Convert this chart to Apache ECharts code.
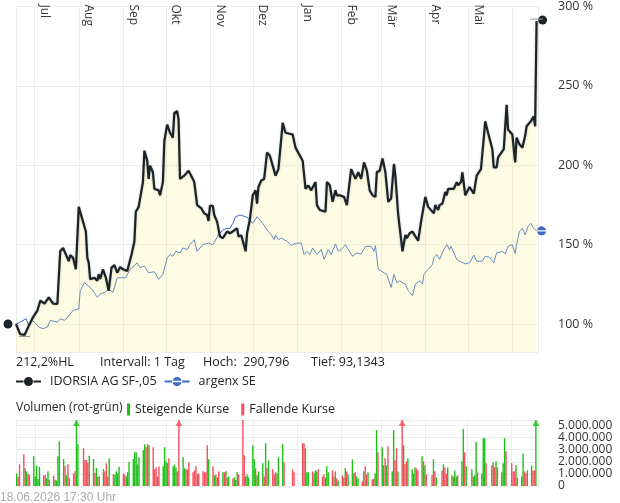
<!DOCTYPE html>
<html>
<head>
<meta charset="utf-8">
<script src="https://cdn.jsdelivr.net/npm/echarts@6/dist/echarts.min.js"></script>
<style>
  html, body { margin: 0; padding: 0; background: #fff; }
  #chart { width: 620px; height: 503px; }
</style>
</head>
<body>
<div id="chart"></div>
<script>
// Tage ab 18.06.2025, Werte in % (Start = 100)
const monthNames = ["Jan", "Feb", "Mär", "Apr", "Mai", "Jun", "Jul", "Aug", "Sep", "Okt", "Nov", "Dez"];
const hoch = 290.796;
const tief = 93.1343;

const idorsia = [
  [0,100],[3,93.6],[6,93.1343],[9,99],[12,104.4],[15,108.5],[17,114.7],[20,112.9],[23,116.8],[26,112.9],[29,112.7],
  [31,145.8],[33,147.9],[36,141.7],[37,139.6],[38,143.4],[40,141.7],[42,134.5],[44,173.8],[49,158.3],[50,141.7],
  [51,138.6],[52,128.2],[55,129.2],[57,127.2],[58,131.3],[59,128.4],[61,134.5],[63,129.2],[65,121],[67,135.5],
  [69,137.1],[71,132.3],[73,135.9],[75,134.5],[78,133.4],[81,143.8],[83,152],[84,170.7],[86,173.8],[89,189.4],
  [90,209.1],[92,202.9],[93,191.4],[94,199.8],[96,195.6],[97,185.2],[100,184.2],[101,181.1],[103,189.4],[104,215.3],
  [106,225.6],[108,220.5],[110,217.4],[111,232.9],[113,234],[114,228.8],[115,191.4],[118,193.5],[121,196.6],[124,191.4],
  [125,189.4],[127,174.9],[130,172.8],[132,169.7],[134,168.7],[135,164.9],[136,174.5],[138,174.5],[139,168.7],[141,164.5],
  [143,155.2],[145,154.1],[148,158.3],[150,157.2],[152,158.3],[155,160.3],[156,155.2],[158,155.8],[161,145.8],[162,157],
  [164,166],[166,181.1],[168,184.2],[169,175.9],[170,186.3],[172,190.4],[174,191.4],[176,208],[178,206],[180,199.8],
  [182,193.5],[184,197.6],[187,226.7],[189,220.5],[194,219.4],[196,211.1],[201,202.9],[203,185.2],[205,187.2],[207,184.2],
  [210,189.4],[211,174.9],[213,171.8],[217,170.7],[218,189.4],[220,187.4],[222,177],[224,184.2],[225,181.1],[227,181.1],
  [230,180.1],[232,174.9],[235,197.6],[238,191.4],[240,195.6],[242,191.4],[244,201.8],[246,196.7],[248,184.2],[250,181.1],
  [252,180.1],[253,195.6],[255,196.6],[257,204.3],[259,195.6],[261,177],[263,179],[265,200.8],[266,193.5],[268,168.7],
  [271,145.8],[273,156.2],[274,154.1],[276,157.2],[278,158.3],[280,155.2],[282,152.5],[284,164.5],[287,180.1],[289,173.8],
  [293,169.7],[294,174.9],[296,171.8],[297,174.9],[299,175.9],[301,183.2],[302,181.1],[303,185.2],[307,185.2],[309,189.4],
  [310,187.4],[312,189.4],[313,195.6],[315,181.1],[318,186.3],[321,182.1],[323,193.5],[326,197.6],[329,227.7],[331,220.5],
  [334,210.1],[335,198.7],[337,198.7],[338,204.9],[342,210.1],[344,238.1],[345,222.5],[348,219.4],[350,201.8],[351,217.4],
  [353,213.2],[355,211.1],[357,218.4],[358,224.6],[361,227.7],[363,230.8],[364,224.6],[365,290.796]
];

const argenx = [
  [0,100],[3,101.2],[7,103.4],[9,99.2],[11,102.3],[13,101.2],[16,98.1],[19,97.1],[22,98.1],[24,102.3],[29,101.2],
  [31,103.4],[34,102.3],[37,105.4],[40,108.5],[44,109.6],[45,121],[48,126.1],[52,123],[54,121],[57,116.8],[59,118.9],
  [62,119.9],[65,122],[66,123],[68,119.9],[71,129.2],[74,129.2],[77,129.2],[80,134.5],[85,138.6],[87,135.5],[90,136.5],
  [93,132.3],[97,133],[100,128.2],[103,131.3],[106,141.7],[108,143.8],[110,142.7],[112,145.8],[115,144.8],[117,147.9],
  [120,146.9],[122,150],[125,153.1],[127,145.8],[131,150],[135,151],[138,150],[142,156.2],[145,159.3],[148,160.3],
  [150,160.3],[152,163.4],[154,167.6],[157,168.7],[161,167.6],[163,166.6],[166,163.4],[169,167.6],[173,163.4],[176,159.3],
  [179,156.2],[181,153.1],[182,156.2],[184,153.1],[186,154.1],[190,152.1],[193,149.6],[197,151],[200,151],[202,143.8],
  [204,145.8],[206,143.8],[208,147.9],[211,143.8],[214,146.9],[216,140.7],[219,146.9],[221,143.8],[224,150.4],[226,145.8],
  [228,146.9],[231,150],[233,146.9],[236,142.7],[239,144.8],[242,144.2],[245,149],[249,149],[251,145.8],[252,149.4],
  [254,134.5],[258,132.3],[260,131.3],[263,123],[265,131.3],[267,126.1],[269,127.2],[273,125.1],[275,121],[278,117.9],
  [280,125.1],[283,127.2],[285,125.1],[286,131.3],[289,134.5],[292,137.6],[293,141.7],[295,143.8],[297,140.7],[300,146.9],
  [302,150],[304,146.9],[305,149],[309,140.7],[311,139.6],[315,137.9],[318,138.6],[321,143.4],[323,139.6],[327,139.6],
  [329,142.7],[332,142.1],[335,138.6],[337,144.8],[341,145.8],[343,144.2],[345,149],[348,150],[350,144.4],[351,150],
  [353,158.3],[355,160.3],[357,156.2],[359,161.4],[361,163.4],[363,160.3],[365,158.7]
];

// [Tag, Volumen in Mio., 1 = steigend / 0 = fallend]
const volume = [
  [0,1.04,1],[1,0.74,0],[2,1.79,0],[5,2.63,0],[6,1.46,1],[7,1.21,1],[8,1.01,0],[9,0.93,0],
  [12,2.46,1],[13,0.79,1],[14,1.68,1],[15,0.57,1],[16,1.6,1],
  [19,0.88,0],[20,0.88,0],[21,0.65,1],[22,1.21,1],[23,0.51,0],
  [26,0.85,0],[27,0.51,1],[28,0.46,1],[29,2.46,1],[30,3.71,1],
  [33,2.24,1],[34,1.68,0],[35,0.88,1],[36,1.79,0],[37,0.65,0],
  [40,1.04,0],[41,1.21,0],[42,8,1],[43,3.46,1],
  [47,3.13,0],[48,2.15,0],[49,2.15,0],[50,1.9,0],[51,2.51,1],
  [54,2.24,1],[55,1.07,0],[56,1.49,1],[57,0.74,0],[58,0.82,1],
  [61,1.4,1],[62,1.21,0],[63,1.88,0],[64,0.79,0],[65,2.29,1],
  [68,0.99,0],[69,0.93,1],[70,1.21,1],[71,1.04,1],[72,1.6,1],
  [75,1.04,0],[76,0.93,0],[77,0.79,1],[78,1.13,1],[79,2.01,1],
  [82,2.24,1],[83,2.79,1],[84,2.79,1],[85,1.79,1],[86,2.38,1],
  [89,2.96,1],[90,3.46,1],[91,3.21,0],[92,3.46,0],[93,3.38,1],
  [96,3.21,0],[97,1.4,0],[98,1.54,0],[99,0.79,1],[100,1.63,0],
  [103,1.63,1],[104,3.21,1],[105,2.04,1],[106,1.9,1],[107,2.29,0],
  [110,1.63,1],[111,1.76,1],[112,1.54,1],[113,1.21,0],[114,8,0],
  [117,2.38,1],[118,1.46,1],[119,1.4,0],[120,1.35,1],[121,1.96,0],
  [124,1.13,0],[125,1.29,0],[126,1.63,0],[127,0.99,1],[128,1.04,0],
  [131,1.21,0],[132,1.13,0],[133,1.13,0],[134,3.38,0],[135,2.21,1],
  [138,1.63,0],[139,0.88,1],[140,0.96,0],[141,0.71,1],[142,1.21,0],
  [145,1.13,1],[146,1.13,0],[147,1.21,1],[148,0.71,0],[149,0.79,1],
  [152,0.63,0],[153,0.71,1],[154,0.49,1],[155,1.13,1],[156,0.96,0],
  [159,5.45,0],[160,2.54,0],[161,0.79,1],[162,0.96,1],[163,0.71,1],
  [166,3.38,1],[167,2.21,1],[168,1.46,0],[169,0.88,1],[170,1.21,1],
  [173,1.88,1],[174,0.79,0],[175,3.54,1],[176,1.46,0],[177,2.13,1],
  [180,1.38,0],[181,0.96,0],[182,1.13,0],[183,1.04,1],[184,2.38,1],
  [187,3.46,1],[188,1.96,0],[194,1.38,0],[195,1.13,0],
  [201,3.54,0],[202,3.54,0],[203,3.13,1],[204,1.13,1],[205,1.13,1],
  [208,1.21,0],[209,1.04,1],[210,1.29,1],[211,1.21,1],[212,1.38,0],
  [215,0.79,0],[216,0.96,0],[217,0.71,1],[218,1.63,1],[219,1.13,1],
  [222,1.29,0],[223,0.79,1],[224,1.21,0],[225,0.63,0],[226,0.46,1],
  [229,0.88,0],[230,0.71,0],[231,1.46,1],[232,1.21,0],[233,0.96,1],
  [236,2.21,1],[237,1.04,0],[238,1.13,0],[239,0.79,1],[240,0.63,1],
  [243,0.38,0],[244,1.21,1],[245,1.63,0],[246,0.96,0],[247,1.13,1],
  [250,0.54,0],[251,0.63,0],[252,1.04,1],[253,4.63,1],[254,2.79,0],
  [257,3.21,1],[258,1.71,0],[259,2.29,0],[260,1.71,1],[261,3.29,0],
  [264,1.21,1],[265,4.63,1],[266,2.13,0],[267,3.13,0],[268,1.2,1],
  [271,8,0],[272,3.38,1],[273,1.79,0],[274,2.04,0],[275,2.29,1],
  [278,1.38,1],[279,1.04,1],[280,1.54,1],[281,1.46,0],[282,1.29,0],
  [285,2.46,1],[286,2.04,0],[287,1.71,1],[288,0.96,0],
  [292,0.88,0],[293,2.21,1],[294,1.21,0],[295,0.71,1],
  [299,1.29,0],[300,1.79,1],[301,1.54,0],[302,1.04,0],[303,1.54,1],
  [306,0.88,1],[307,0.79,0],[308,1.29,1],[309,0.79,1],[310,0.88,0],
  [313,2.04,1],[314,4.71,1],[315,2.79,0],[316,1.63,1],
  [320,1.38,1],[321,0.79,0],[322,0.88,1],[323,3.63,1],[324,1.13,0],
  [327,1.04,1],[328,3.96,1],[329,3.96,1],[330,1.88,0],
  [334,1.71,0],[335,1.96,1],[336,1.54,0],[337,2.04,1],[338,1.54,0],
  [341,1.13,1],[342,1.88,1],[343,3.96,1],[344,2.88,0],
  [348,1.88,0],[349,1.21,0],[350,1.21,0],[351,1.71,1],[352,0.71,0],
  [355,0.79,1],[356,2.71,1],[357,1.21,0],[358,1.04,0],[359,1.29,1],
  [362,1.71,1],[363,1.29,0],[364,1.29,0],[365,8,1]
];

const DAY = 864e5;
const t0 = new Date(2025, 5, 18).getTime();
const toTime = d => t0 + d * DAY;
const volMax = 5.46e6;
const font = "Open Sans";
const green = "#1ec11a";
const red = "#f5505e";
const black = "#1a2328";
const blue = "#3a6cc6";

const stripedCircle = "path://M0.113 8.6A10 10 0 0 1 19.887 8.6ZM0.113 11.4A10 10 0 0 0 19.887 11.4Z";
const iconBlack = "path://M0 3.6H7.5V5.4H0ZM17.5 3.6H25V5.4H17.5ZM8 4.5A4.5 4.5 0 1 1 17 4.5A4.5 4.5 0 1 1 8 4.5Z";
const iconBlue = "path://M0 3.6H7.5V5.4H0ZM17.5 3.6H25V5.4H17.5ZM8.06 3.8A4.5 4.5 0 0 1 16.94 3.8ZM8.06 5.2A4.5 4.5 0 0 0 16.94 5.2Z";

const fmtDe = v => String(v).replace(/\B(?=(\d{3})+(?!\d))/g, ".");
const comma = v => String(v).replace(".", ",");
const hl = ((hoch - tief) / tief * 100).toFixed(1).replace(".", ",") + "%HL";

const idoData = idorsia.map(p => [toTime(p[0]), p[1]]);
const argData = argenx.map(p => [toTime(p[0]), p[1]]);
const first = idoData[0];
const last = idoData[idoData.length - 1];
const argLast = argData[argData.length - 1];

const upBars = volume.filter(v => v[2] === 1).map(v => [toTime(v[0]), v[1] * 1e6]);
const downBars = volume.filter(v => v[2] === 0).map(v => [toTime(v[0]), v[1] * 1e6]);
const arrows = volume.filter(v => v[1] * 1e6 > volMax).map(v => ({
  value: [toTime(v[0]), volMax],
  itemStyle: { color: v[2] === 1 ? green : red }
}));

const monthAxis = (grid, showLabel) => ({
  type: "time",
  gridIndex: grid,
  position: "top",
  min: toTime(0),
  max: toTime(366),
  minInterval: 28 * DAY,
  maxInterval: 31 * DAY,
  axisLine: { show: false },
  axisTick: { show: false },
  splitLine: { show: true, lineStyle: { color: "#ececec", width: 1 } },
  axisLabel: {
    show: showLabel,
    inside: true,
    rotate: 90,
    margin: -2,
    verticalAlign: "bottom",
    lineHeight: 20,
    color: "#333",
    fontSize: 12,
    fontFamily: font,
    hideOverlap: false,
    formatter: function (v) {
      const d = new Date(v);
      if (d.getDate() !== 1 || d.getMonth() === 5) return "";
      return monthNames[d.getMonth()];
    }
  }
});

let myChart = echarts.init(document.getElementById("chart"), null, { renderer: "canvas" });

let option = {
  animation: false,
  backgroundColor: "#fff",
  textStyle: { fontFamily: font },
  grid: [
    { left: 16, right: 82, top: 2, height: 350 },
    { left: 16, right: 82, top: 420, height: 66 }
  ],
  xAxis: [monthAxis(0, true), monthAxis(1, false)],
  yAxis: [
    {
      type: "value",
      gridIndex: 0,
      position: "right",
      min: 82.4,
      max: 300,
      axisLine: { show: false },
      axisTick: { show: false },
      splitLine: { lineStyle: { color: "#ececec" } },
      axisLabel: {
        margin: 20,
        color: "#333",
        fontSize: 12.5,
        fontFamily: font,
        formatter: v => (v % 50 === 0 ? v + " %" : "")
      }
    },
    {
      type: "value",
      gridIndex: 1,
      position: "right",
      min: 0,
      max: volMax,
      axisLine: { show: false },
      axisTick: { show: false },
      splitLine: { lineStyle: { color: "#ececec" } },
      axisLabel: {
        margin: 20,
        color: "#333",
        fontSize: 12,
        fontFamily: font,
        hideOverlap: false,
        formatter: v => (v % 1e6 === 0 ? fmtDe(v) : "")
      }
    }
  ],
  legend: [
    {
      data: [
        { name: "IDORSIA AG SF-,05", icon: iconBlack },
        { name: "argenx SE", icon: iconBlue }
      ],
      left: 16,
      top: 375,
      padding: 0,
      itemWidth: 25,
      itemHeight: 9,
      itemGap: 8,
      selectedMode: false,
      textStyle: { fontSize: 12.5, color: "#222", fontFamily: font, padding: [0, 0, 0, 4] }
    },
    {
      data: ["Steigende Kurse", "Fallende Kurse"],
      icon: "rect",
      left: 127,
      top: 403,
      padding: 0,
      itemWidth: 3,
      itemHeight: 12,
      itemGap: 12,
      selectedMode: false,
      textStyle: { fontSize: 12.5, color: "#222", fontFamily: font }
    }
  ],
  graphic: [
    { type: "text", left: 16, top: 356, style: { text: hl, fontSize: 12.5, fontFamily: font, fill: "#222" } },
    { type: "text", left: 100, top: 356, style: { text: "Intervall: 1 Tag", fontSize: 12.5, fontFamily: font, fill: "#222" } },
    { type: "text", left: 203, top: 356, style: { text: "Hoch:  " + comma(hoch), fontSize: 12.5, fontFamily: font, fill: "#222" } },
    { type: "text", left: 311, top: 356, style: { text: "Tief: " + comma(tief), fontSize: 12.5, fontFamily: font, fill: "#222" } },
    { type: "text", left: 16, top: 402, style: { text: "Volumen (rot-grün)", fontSize: 12, fontFamily: font, fill: "#222" } },
    { type: "text", left: 0, top: 492, style: { text: "18.06.2026 17:30 Uhr", fontSize: 12, fontFamily: "Liberation Sans", fill: "#aaa" } }
  ],
  series: [
    {
      name: "IDORSIA AG SF-,05",
      type: "line",
      xAxisIndex: 0,
      yAxisIndex: 0,
      data: idoData,
      symbol: "circle",
      showSymbol: false,
      z: 3,
      lineStyle: { color: black, width: 2.2, shadowColor: "rgba(0,0,0,0.3)", shadowBlur: 2 },
      itemStyle: { color: black },
      areaStyle: { color: "rgba(250,238,150,0.35)", origin: "start" },
      markPoint: {
        label: { show: false },
        data: [
          { coord: first, symbol: "circle", symbolSize: 9, symbolOffset: [-8, 0], itemStyle: { color: black } },
          { coord: last, symbol: "circle", symbolSize: 9, symbolOffset: [6, -1], itemStyle: { color: black } },
          { type: "max", symbol: "rect", symbolSize: [13, 1], symbolOffset: [0, -2], itemStyle: { color: "#999" } },
          { type: "min", symbol: "rect", symbolSize: [11, 1], symbolOffset: [0, 1.5], itemStyle: { color: "#999" } }
        ]
      }
    },
    {
      name: "argenx SE",
      type: "line",
      xAxisIndex: 0,
      yAxisIndex: 0,
      data: argData,
      symbol: stripedCircle,
      showSymbol: false,
      z: 2,
      lineStyle: { color: blue, width: 1 },
      itemStyle: { color: blue },
      markPoint: {
        label: { show: false },
        data: [
          { coord: argLast, symbol: stripedCircle, symbolSize: 9, symbolOffset: [5, 0], itemStyle: { color: blue } }
        ]
      }
    },
    {
      name: "Steigende Kurse",
      type: "bar",
      xAxisIndex: 1,
      yAxisIndex: 1,
      data: upBars,
      barWidth: 1.4,
      barGap: "-100%",
      itemStyle: { color: green }
    },
    {
      name: "Fallende Kurse",
      type: "bar",
      xAxisIndex: 1,
      yAxisIndex: 1,
      data: downBars,
      barWidth: 1.4,
      barGap: "-100%",
      itemStyle: { color: red }
    },
    {
      name: "Pfeile",
      type: "scatter",
      xAxisIndex: 1,
      yAxisIndex: 1,
      data: arrows,
      symbol: "triangle",
      symbolSize: [7, 6],
      symbolOffset: [0, 3],
      z: 5
    }
  ]
};

myChart.setOption(option);
</script>
</body>
</html>
